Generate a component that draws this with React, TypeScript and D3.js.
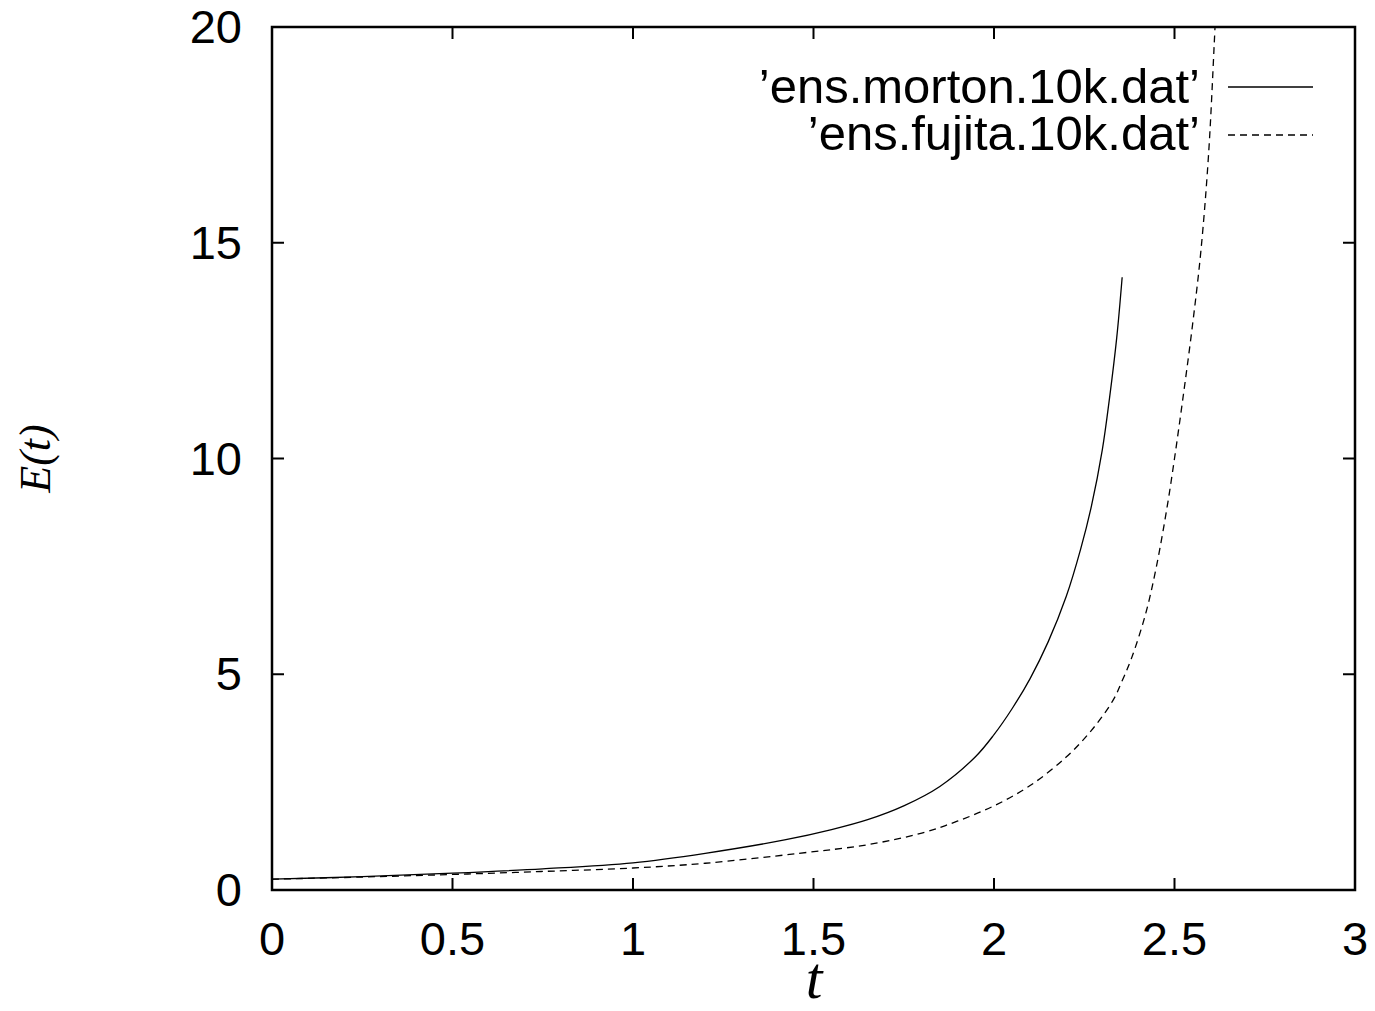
import React from "react";
import * as d3 from "d3";

const mortonT = [0, 0.25, 0.5, 0.75, 1.0, 1.2, 1.42, 1.55, 1.65, 1.75, 1.85, 1.95, 2.0, 2.05, 2.1, 2.15, 2.2, 2.24, 2.27, 2.3, 2.32, 2.34, 2.355];
const mortonE = [0.25, 0.31, 0.39, 0.49, 0.63, 0.85, 1.16, 1.4, 1.63, 1.95, 2.4, 3.1, 3.6, 4.2, 4.9, 5.75, 6.8, 7.9, 8.9, 10.2, 11.4, 12.8, 14.2];

const fujitaT = [0, 0.25, 0.5, 0.75, 1.0, 1.2, 1.46, 1.65, 1.8, 1.9, 2.0, 2.1, 2.2, 2.27, 2.33, 2.355, 2.38, 2.42, 2.45, 2.48, 2.5, 2.525, 2.55, 2.573, 2.594, 2.61, 2.62];
const fujitaE = [0.25, 0.3, 0.36, 0.43, 0.51, 0.62, 0.85, 1.05, 1.32, 1.6, 1.95, 2.42, 3.08, 3.7, 4.4, 4.85, 5.35, 6.4, 7.5, 8.9, 10.0, 11.5, 13.1, 14.8, 17.0, 19.6, 21.5];

const seriesNames = ["\u2019ens.morton.10k.dat\u2019", "\u2019ens.fujita.10k.dat\u2019"];
const xTicks = [0, 0.5, 1, 1.5, 2, 2.5, 3];
const yTicks = [0, 5, 10, 15, 20];

const W = 1375;
const H = 1011;
const margin = { left: 272, right: 20, top: 27, bottom: 121 };
const sans = "'Liberation Sans', Arial, Helvetica, sans-serif";
const serif = "'Liberation Serif', 'Times New Roman', serif";

export default function App() {
  const x = d3.scaleLinear().domain([0, 3]).range([margin.left, W - margin.right]);
  const y = d3.scaleLinear().domain([0, 20]).range([H - margin.bottom, margin.top]);

  const line = d3
    .line<[number, number]>()
    .x((d) => x(d[0]))
    .y((d) => y(d[1]))
    .curve(d3.curveCatmullRom.alpha(0.5));

  const morton = mortonT.map((t, i) => [t, mortonE[i]] as [number, number]);
  const fujita = fujitaT.map((t, i) => [t, fujitaE[i]] as [number, number]);

  const x0 = x(0), x1 = x(3), y0 = y(0), y1 = y(20);
  const tick = 12;

  return (
    <svg
      width={W}
      height={H}
      style={{ position: "absolute", left: 0, top: 0, background: "#fff" }}
    >
      <defs>
        <clipPath id="plot">
          <rect x={x0} y={y1} width={x1 - x0} height={y0 - y1} />
        </clipPath>
      </defs>

      {/* ticks, mirrored on all sides */}
      <g stroke="#000" strokeWidth={2}>
        {xTicks.map((t) => (
          <g key={"xt" + t}>
            <line x1={x(t)} x2={x(t)} y1={y0} y2={y0 - tick} />
            <line x1={x(t)} x2={x(t)} y1={y1} y2={y1 + tick} />
          </g>
        ))}
        {yTicks.map((t) => (
          <g key={"yt" + t}>
            <line x1={x0} x2={x0 + tick} y1={y(t)} y2={y(t)} />
            <line x1={x1} x2={x1 - tick} y1={y(t)} y2={y(t)} />
          </g>
        ))}
      </g>

      {/* tick labels */}
      <g fontFamily={sans} fontSize={47} fill="#000">
        {xTicks.map((t) => (
          <text key={"xl" + t} x={x(t)} y={y0 + 65} textAnchor="middle">
            {t}
          </text>
        ))}
        {yTicks.map((t) => (
          <text key={"yl" + t} x={x0 - 30} y={y(t) + 16} textAnchor="end">
            {t}
          </text>
        ))}
      </g>

      {/* curves */}
      <g clipPath="url(#plot)" fill="none" stroke="#000" strokeWidth={1.3}>
        <path d={line(morton) || ""} />
        <path d={line(fujita) || ""} strokeDasharray="7,5" />
      </g>

      {/* legend */}
      <g fontFamily={sans} fontSize={49} fill="#000">
        <text x={1200} y={103} textAnchor="end">{seriesNames[0]}</text>
        <text x={1200} y={150} textAnchor="end">{seriesNames[1]}</text>
      </g>
      <line x1={1228} x2={1313} y1={87} y2={87} stroke="#000" strokeWidth={1.3} />
      <line x1={1228} x2={1313} y1={135} y2={135} stroke="#000" strokeWidth={1.3} strokeDasharray="7,5" />

      {/* frame */}
      <rect x={x0} y={y1} width={x1 - x0} height={y0 - y1} fill="none" stroke="#000" strokeWidth={2.5} />

      {/* axis titles */}
      <text x={814} y={998} textAnchor="middle" fontFamily={serif} fontStyle="italic" fontSize={60}>
        t
      </text>
      <text
        transform={`translate(50, ${(y0 + y1) / 2}) rotate(-90)`}
        textAnchor="middle"
        fontFamily={serif}
        fontStyle="italic"
        fontSize={44}
      >
        E(t)
      </text>
    </svg>
  );
}
